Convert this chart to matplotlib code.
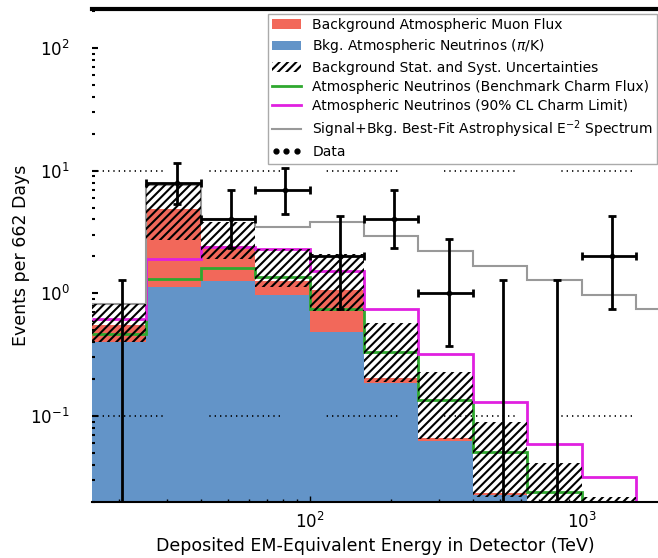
import numpy as np
import matplotlib
matplotlib.use('Agg')
import matplotlib.pyplot as plt
from matplotlib.lines import Line2D

# log10 bin edges of deposited energy (TeV)
log_edges = [1.2, 1.4, 1.6, 1.8, 2.0, 2.2, 2.4, 2.6, 2.8, 3.0, 3.2, 3.4]

# stacked backgrounds (events per bin)
bkg_nu_pik = [0.40, 1.12, 1.27, 0.96, 0.48, 0.185, 0.063, 0.0225, 0.008, 0.003, 0.001]
bkg_total = [0.55, 4.9, 2.45, 1.27, 1.07, 0.205, 0.066, 0.0235, 0.009, 0.0035, 0.0012]

# uncertainty band
unc_lo = [0.40, 2.7, 1.9, 1.12, 0.72, 0.19, 0.065, 0.0218, 0.010, 0.004, 0.002]
unc_hi = [0.82, 7.8, 3.8, 2.3, 2.1, 0.57, 0.228, 0.089, 0.041, 0.022, 0.008]

charm_benchmark = [0.47, 1.31, 1.6, 1.35, 0.75, 0.33, 0.134, 0.051, 0.024, 0.010, 0.004]
charm_limit = [0.62, 1.91, 2.4, 2.3, 1.53, 0.74, 0.32, 0.131, 0.059, 0.0317, 0.012]
signal_bkg = [0.82, 7.6, 4.0, 3.46, 3.8, 2.96, 2.23, 1.68, 1.29, 0.97, 0.75]

# data (counts and 68% intervals)
data_counts = [0, 8, 4, 7, 2, 4, 1, 0, 0, 2, 0]
data_lo = [0, 5.3, 2.33, 4.4, 0.74, 2.33, 0.37, 0, 0, 0.74, 0]
data_hi = [1.29, 11.5, 7.0, 10.6, 4.25, 6.9, 2.75, 1.29, 1.29, 4.25, 1.29]

labels = ['Background Atmospheric Muon Flux',
          'Bkg. Atmospheric Neutrinos ($\\pi$/K)',
          'Background Stat. and Syst. Uncertainties',
          'Atmospheric Neutrinos (Benchmark Charm Flux)',
          'Atmospheric Neutrinos (90% CL Charm Limit)',
          'Signal+Bkg. Best-Fit Astrophysical E$^{-2}$ Spectrum',
          'Data']

edges = 10 ** np.array(log_edges)
centers = 0.5 * (edges[:-1] + edges[1:])
counts = np.array(data_counts, dtype=float)
yerr = [counts - np.array(data_lo), np.array(data_hi) - counts]
xerr = [centers - edges[:-1], edges[1:] - centers]

plt.rcParams['hatch.linewidth'] = 1.5

fig = plt.figure(figsize=(6.58, 5.58), dpi=100)
ax = fig.add_axes([0.1398, 0.1009, 0.8602, 0.883])
ax.set_xscale('log')
ax.set_yscale('log')

blue = ax.stairs(bkg_nu_pik, edges, baseline=1e-4, fill=True, color='#6394c8', zorder=1)
red = ax.stairs(bkg_total, edges, baseline=bkg_nu_pik, fill=True, color='#f2685a', zorder=1)
green = ax.stairs(charm_benchmark, edges, baseline=None, color='#2fa82f', lw=2, zorder=2)
magenta = ax.stairs(charm_limit, edges, baseline=None, color='#e020e0', lw=2, zorder=2)
gray = ax.stairs(signal_bkg, edges, baseline=None, color='#999999', lw=1.5, zorder=2)
hatch = ax.stairs(unc_hi, edges, baseline=unc_lo, fill=True, facecolor='none',
                  edgecolor='black', lw=0, hatch='////', zorder=3)
ax.errorbar(centers, counts, xerr=xerr, yerr=yerr, fmt='o', color='black',
            ms=3, elinewidth=2, capsize=3, capthick=2, zorder=4)
data_handle = Line2D([], [], ls='none', marker='o', ms=3.5, color='black')

# dotted grid in broken segments
dash = [0.8, 2.4] * 13 + [0.8, 28]
for yv in [0.1, 10]:
    ax.axhline(yv, color='black', lw=1.2, dashes=dash, zorder=2.5)

ax.set_xlim(10 ** 1.2, 10 ** 3.281)
ax.set_ylim(0.02, 208)

ax.spines['left'].set_visible(False)
ax.spines['right'].set_visible(False)
ax.spines['top'].set_linewidth(3)
ax.spines['bottom'].set_linewidth(1.5)
ax.tick_params(axis='both', which='both', direction='in', labelsize=12)
ax.tick_params(axis='y', which='major', length=4, width=1.5, pad=16)
ax.tick_params(axis='y', which='minor', length=2, width=1.5)
ax.tick_params(axis='x', which='major', length=4, width=1, pad=7)
ax.tick_params(axis='x', which='minor', length=2, width=1)

ax.set_xlabel('Deposited EM-Equivalent Energy in Detector (TeV)', fontsize=12.5)
ax.set_ylabel('Events per 662 Days', fontsize=12.5, labelpad=0)

leg = ax.legend([red, blue, hatch, green, magenta, gray, data_handle], labels,
                loc='upper right', bbox_to_anchor=(0.998, 0.99), borderaxespad=0,
                fontsize=10, labelspacing=0.38, numpoints=3, fancybox=False,
                borderpad=0.3, handlelength=2.1, handletextpad=0.8,
                framealpha=1, edgecolor='#aaaaaa')
leg.set_zorder(10)

plt.savefig('out.png', dpi=100)
